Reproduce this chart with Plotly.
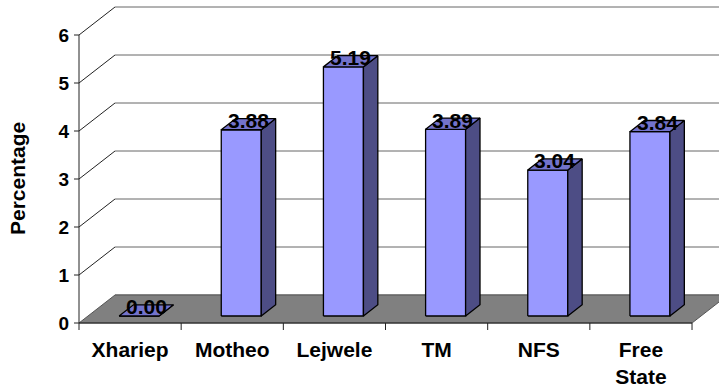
import plotly.graph_objects as go

categories = ["Xhariep", "Motheo", "Lejwele", "TM", "NFS", "Free<br>State"]
values = [0.00, 3.88, 5.19, 3.89, 3.04, 3.84]
y_ticks = [0, 1, 2, 3, 4, 5, 6]
value_labels = ["0.00", "3.88", "5.19", "3.89", "3.04", "3.84"]

# layout constants (pixels per data unit and oblique depth vector)
PXX = 102.17
PXY = 48.0
DX = 36 / PXX
DY = 28 / PXY
F0 = 0.25      # bar front depth fraction
FD = 0.40      # bar depth fraction
BW = 40 / PXX  # bar width in category units
NC = len(categories)
YMAX = y_ticks[-1]

FONT = "Liberation Sans, Arial, sans-serif"
FRONT = "#9999FF"
SIDE = "#4D4D85"
TOP = "#7373CC"

fig = go.Figure()

def line_trace(xs, ys, color="#555555", width=1):
    fig.add_trace(go.Scatter(x=xs, y=ys, mode="lines", line=dict(color=color, width=width),
                             hoverinfo="skip", showlegend=False))

# back wall gridlines
gx, gy = [], []
for v in y_ticks:
    gx += [DX, NC + DX + 1, None]
    gy += [v + DY, v + DY, None]
line_trace(gx, gy, "#666666", 1)

# left wall diagonals
lx, ly = [], []
for v in y_ticks[1:]:
    lx += [0, DX, None]
    ly += [v, v + DY, None]
line_trace(lx, ly, "#222222", 1)

# floor
fig.add_trace(go.Scatter(x=[0, NC, NC + DX, DX, 0], y=[0, 0, DY, DY, 0], mode="lines",
                         fill="toself", fillcolor="#808080", line=dict(color="#555555", width=1),
                         hoverinfo="skip", showlegend=False))
line_trace([0, NC], [0, 0], "#222222", 1)

# y axis line with ticks
ax = [0, 0, None]
ay = [0, YMAX, None]
for v in y_ticks:
    ax += [-5 / PXX, 0, None]
    ay += [v, v, None]
line_trace(ax, ay, "#222222", 1)

# x axis category ticks
tx, ty = [], []
for i in range(NC + 1):
    tx += [i, i, None]
    ty += [0, -7 / PXY, None]
line_trace(tx, ty, "#222222", 1)

# bars
fx, fy, sx, sy, ux, uy = [], [], [], [], [], []
for i, v in enumerate(values):
    x0 = i + 0.5 - BW / 2 + F0 * DX
    x1 = x0 + BW
    y0 = F0 * DY
    y1 = v + F0 * DY
    ddx, ddy = FD * DX, FD * DY
    fx += [x0, x1, x1, x0, x0, None]
    fy += [y0, y0, y1, y1, y0, None]
    sx += [x1, x1 + ddx, x1 + ddx, x1, x1, None]
    sy += [y0, y0 + ddy, y1 + ddy, y1, y0, None]
    ux += [x0, x1, x1 + ddx, x0 + ddx, x0, None]
    uy += [y1, y1, y1 + ddy, y1 + ddy, y1, None]
    fig.add_annotation(x=(x0 + x1) / 2 + ddx / 2, y=y1 + ddy / 2, text=value_labels[i],
                       showarrow=False, xanchor="center", yanchor="bottom", yshift=-10,
                       font=dict(family=FONT, size=21, color="#000000", weight="bold"))

for xs, ys, col in [(fx, fy, FRONT), (sx, sy, SIDE), (ux, uy, TOP)]:
    fig.add_trace(go.Scatter(x=xs, y=ys, mode="lines", fill="toself", fillcolor=col,
                             line=dict(color="#000000", width=1.3),
                             hoverinfo="skip", showlegend=False))

fig.add_annotation(xref="paper", yref="y", x=-(73 - 17) / 646, y=YMAX / 2, text="Percentage",
                   textangle=-90, showarrow=False, xanchor="center", yanchor="middle",
                   font=dict(family=FONT, size=21, color="#000000", weight="bold"))

fig.update_layout(
    width=719, height=391,
    margin=dict(l=73, r=0, t=3, b=60),
    paper_bgcolor="white", plot_bgcolor="white",
    showlegend=False,
    xaxis=dict(range=[-6 / PXX, 640 / PXX], showgrid=False, zeroline=False, showline=False,
               tickmode="array", tickvals=[i + 0.5 for i in range(NC)], ticktext=categories,
               ticks="", ticklabelstandoff=4,
               tickfont=dict(family=FONT, size=21, color="#000000", weight="bold")),
    yaxis=dict(range=[-8 / PXY, 320 / PXY], showgrid=False, zeroline=False, showline=False,
               tickmode="array", tickvals=y_ticks, ticktext=[str(t) for t in y_ticks],
               ticks="", ticklabelstandoff=3,
               tickfont=dict(family=FONT, size=19, color="#000000", weight="bold")),
)

fig.write_html("out.html")
